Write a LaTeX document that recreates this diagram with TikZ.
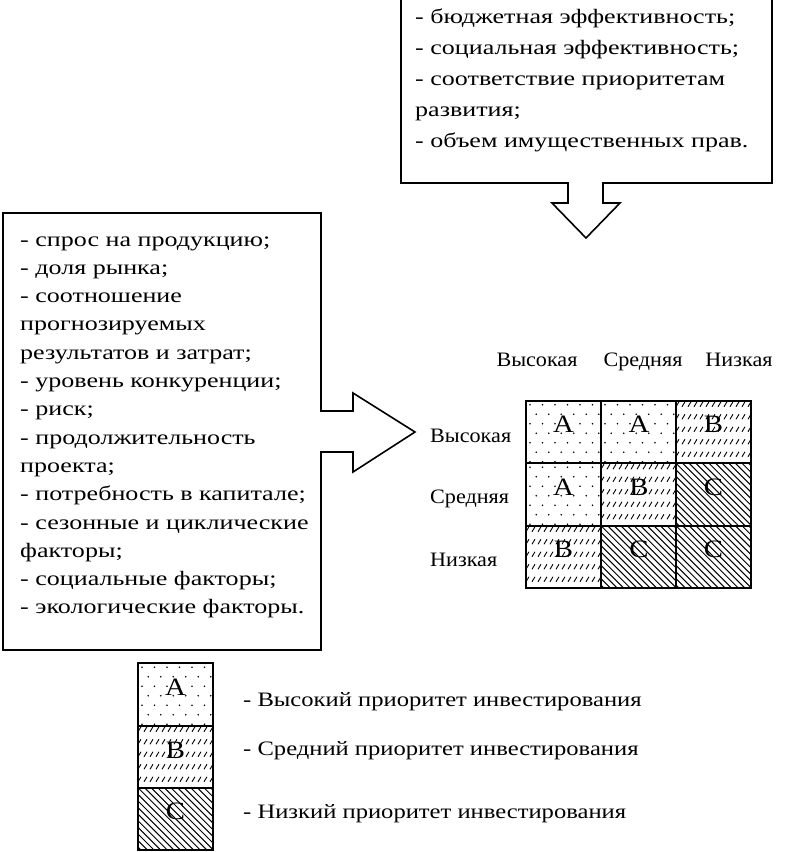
\documentclass[tikz,border=0pt]{standalone}
\usepackage{fontspec}
\setmainfont{Liberation Serif}
\newfontfamily\boxfont[FakeStretch=1.27]{Liberation Serif}
\newfontfamily\lblfont[FakeStretch=1.08]{Liberation Serif}
\newfontfamily\legfont[FakeStretch=1.2]{Liberation Serif}
\newfontfamily\bigfont[FakeStretch=1.15]{Liberation Serif}
\newcommand\patA[2]{\begin{scope}\clip (#1-37.5,#2-31.25) rectangle (#1+37.5,#2+31.25);
\foreach \j in {0,...,6}{\foreach \i in {0,...,6}{\fill ({#1-37.5+4+\i*12.5+mod(\j,2)*6.25},{#2-31.25+4+\j*9.5}) circle (0.9);}}\end{scope}}
\newcommand\patB[2]{\begin{scope}\clip (#1-37.5,#2-31.25) rectangle (#1+37.5,#2+31.25);
\foreach \j in {0,...,5}{\foreach \i in {0,...,13}{\draw[line width=0.9pt] ({#1-37.5+\i*6},{#2-31.25+1+\j*12.5+5}) -- ++(3,-5);}}\end{scope}}
\newcommand\patC[2]{\begin{scope}\clip (#1-37.5,#2-31.25) rectangle (#1+37.5,#2+31.25);
\foreach \k in {-11,...,13}{\draw[line width=1pt] ({#1-37.5+\k*6.6},{#2-31.25}) -- ++(70,70);}\end{scope}}
\begin{document}
\begin{tikzpicture}[x=1pt,y=-1pt,
  outline/.style={line width=1.6pt, line join=miter},
  txt/.style={inner sep=0pt, anchor=base west},
  lbl/.style={font=\lblfont\fontsize{20.5}{24}\selectfont, inner sep=0pt},
  leg/.style={font=\legfont\fontsize{20.5}{24}\selectfont, inner sep=0pt, anchor=base west},
  big/.style={font=\bigfont\fontsize{25}{28}\selectfont, inner sep=0pt},
  cell/.style={draw, line width=1.6pt, minimum width=75pt, minimum height=62.5pt, inner sep=0pt}
]
\useasboundingbox[fill=white] (0,0) rectangle (801,852);
% top box with down arrow
\draw[outline] (401,-5) -- (401,183) -- (568,183) -- (568,203) -- (552,203) -- (586,238) -- (620,203) -- (603,203) -- (603,183) -- (772,183) -- (772,-5);
\node[txt] (top) at (415,23) {\parbox[t]{355pt}{\boxfont\fontsize{20.5}{31}\selectfont\raggedright
- бюджетная эффективность;\\
- социальная эффективность;\\
- соответствие приоритетам\\
развития;\\
- объем имущественных прав.}};
% left box with right arrow
\draw[outline] (3,213) -- (321,213) -- (321,411) -- (353,411) -- (353,393) -- (415,432) -- (353,472) -- (353,452) -- (321,452) -- (321,650) -- (3,650) -- cycle;
\node[txt] (left) at (20,246) {\parbox[t]{300pt}{\boxfont\fontsize{20.5}{28.3}\selectfont\raggedright
- спрос на продукцию;\\
- доля рынка;\\
- соотношение\\
прогнозируемых\\
результатов и затрат;\\
- уровень конкуренции;\\
- риск;\\
- продолжительность\\
проекта;\\
- потребность в капитале;\\
- сезонные и циклические\\
факторы;\\
- социальные факторы;\\
- экологические факторы.}};
% patterns
\patA{563.5}{432} \patA{638.5}{432} \patB{713.5}{432}
\patA{563.5}{494.5} \patB{638.5}{494.5} \patC{713.5}{494.5}
\patB{563.5}{557} \patC{638.5}{557} \patC{713.5}{557}
\patA{175.5}{694.5} \patB{175.5}{757} \patC{175.5}{819}
% grid cells
\node[cell] (c11) at (563.5,432) {}; \node[cell] (c12) at (638.5,432) {}; \node[cell] (c13) at (713.5,432) {};
\node[cell] (c21) at (563.5,494.5) {}; \node[cell] (c22) at (638.5,494.5) {}; \node[cell] (c23) at (713.5,494.5) {};
\node[cell] (c31) at (563.5,557) {}; \node[cell] (c32) at (638.5,557) {}; \node[cell] (c33) at (713.5,557) {};
\node[big] (l11) at (563.5,424) {A}; \node[big] (l12) at (639,424) {A}; \node[big] (l13) at (713.5,424) {B};
\node[big] (l21) at (563.5,487) {A}; \node[big] (l22) at (639,487) {B}; \node[big] (l23) at (713.5,487) {C};
\node[big] (l31) at (563.5,549) {B}; \node[big] (l32) at (639,549) {C}; \node[big] (l33) at (713.5,549) {C};
% headers
\node[lbl, anchor=base] (h1) at (537,366) {Высокая};
\node[lbl, anchor=base] (h2) at (643,366) {Средняя};
\node[lbl, anchor=base] (h3) at (739,366) {Низкая};
\node[lbl, anchor=base west] (r1) at (430,442) {Высокая};
\node[lbl, anchor=base west] (r2) at (430,503) {Средняя};
\node[lbl, anchor=base west] (r3) at (430,566) {Низкая};
% legend
\node[cell] (ga) at (175.5,694.5) {}; \node[cell] (gb) at (175.5,757) {}; \node[cell] (gc) at (175.5,819) {};
\node[big] (la) at (175.5,687) {A}; \node[big] (lb) at (175.5,750) {B}; \node[big] (lc) at (175.5,811) {C};
\node[leg] (ta) at (243,706) {- Высокий приоритет инвестирования};
\node[leg] (tb) at (243,755) {- Средний приоритет инвестирования};
\node[leg] (tc) at (243,818) {- Низкий приоритет инвестирования};
\end{tikzpicture}
\end{document}
